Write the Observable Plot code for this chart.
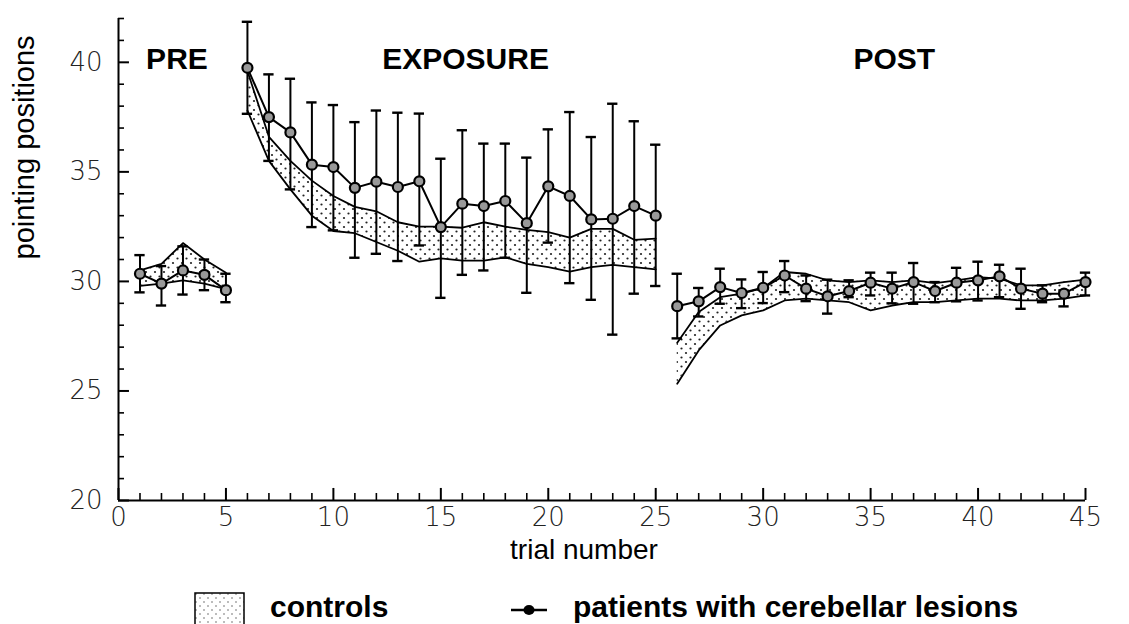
<!DOCTYPE html>
<html><head><meta charset="utf-8">
<script src="https://cdn.jsdelivr.net/npm/d3@7"></script>
<script src="https://cdn.jsdelivr.net/npm/@observablehq/plot@0.6"></script>
<style>
body{margin:0;background:#fff;width:1129px;height:624px;overflow:hidden;position:relative;font-family:"Liberation Sans",Arial,sans-serif}
#chart{position:absolute;left:0;top:0}
.leg{position:absolute;font-weight:bold;font-size:30px;line-height:30px;color:#000;white-space:nowrap}
.legsym{position:absolute}
</style></head><body>
<div id="chart"></div>
<svg class="legsym" style="left:194px;top:592px" width="52" height="34">
  <defs><pattern id="ldots" width="8" height="8" patternUnits="userSpaceOnUse"><rect width="8" height="8" fill="#fff"/><circle cx="2" cy="2" r="0.8" fill="#666"/><circle cx="6" cy="6" r="0.8" fill="#666"/></pattern></defs>
  <rect x="1" y="1" width="49" height="40" fill="url(#ldots)" stroke="#000" stroke-width="1.5"/>
</svg>
<div class="leg" id="leg1" style="left:270px;top:592px"></div>
<svg class="legsym" style="left:508px;top:600px" width="42" height="20">
  <line x1="3" y1="10" x2="39" y2="10" stroke="#000" stroke-width="2.5"/>
  <ellipse cx="21" cy="10" rx="5.5" ry="5" fill="#000"/>
</svg>
<div class="leg" id="leg2" style="left:573px;top:592px"></div>
<script>
// ---- data ----
const trials = [1,2,3,4,5,6,7,8,9,10,11,12,13,14,15,16,17,18,19,20,21,22,23,24,25,26,27,28,29,30,31,32,33,34,35,36,37,38,39,40,41,42,43,44,45];
const phaseNames = ["PRE", "EXPOSURE", "POST"];
const phaseFirst = [1, 6, 26];
const phaseLast = [5, 25, 45];

// patients with cerebellar lesions: mean and error-bar ends
const patientMean = [30.35,29.9,30.5,30.3,29.6,
  39.75,37.5,36.8,35.33,35.22,34.27,34.55,34.31,34.57,32.48,33.55,33.44,33.67,32.66,34.34,33.9,32.83,32.86,33.44,33.0,
  28.87,29.09,29.74,29.47,29.71,30.27,29.67,29.32,29.56,29.94,29.67,29.97,29.56,29.94,30.05,30.23,29.67,29.44,29.44,29.97];
const patientLow = [29.5,28.9,29.4,29.6,29.05,
  37.65,35.5,34.2,32.48,32.33,31.08,31.26,30.93,31.64,29.25,30.3,30.5,31.08,29.48,31.77,29.92,29.16,27.57,29.44,29.79,
  27.4,28.4,28.98,28.78,29.01,29.51,29.1,28.53,29.28,29.36,29.0,28.98,29.05,29.09,29.13,29.28,28.75,29.05,28.86,29.36];
const patientHigh = [31.2,30.7,31.6,31.0,30.35,
  41.85,39.45,39.25,38.17,38.05,37.27,37.8,37.7,37.66,35.6,36.9,36.29,36.29,35.65,36.94,37.73,36.59,38.11,37.31,36.24,
  30.35,29.7,30.58,30.09,30.43,30.93,30.27,30.08,30.05,30.4,30.4,30.84,29.97,30.62,30.9,30.76,30.58,29.82,29.59,30.4];

// controls: band limits
const controlUpper = [30.5,30.8,31.75,31.0,30.4,
  39.6,36.6,35.5,34.6,33.9,33.4,33.2,32.7,32.5,32.5,32.45,32.7,32.5,32.35,32.25,32.0,32.4,32.4,31.9,31.95,
  27.2,28.6,29.28,29.44,29.7,30.43,30.35,30.05,29.97,30.05,29.97,30.05,29.92,30.05,30.2,30.13,29.82,29.82,29.97,30.08];
const controlLower = [29.8,29.9,30.05,29.9,29.65,
  37.8,35.5,34.2,33.0,32.3,32.2,31.8,31.4,30.9,31.05,30.95,30.95,31.1,30.8,30.65,30.45,30.65,30.75,30.65,30.55,
  25.33,26.85,27.99,28.45,28.68,29.13,29.21,29.13,29.05,28.68,28.9,29.05,29.05,29.13,29.21,29.21,29.13,29.13,29.21,29.36];

// axis ticks
const xMajor = [0,5,10,15,20,25,30,35,40,45];
const yMajor = [20,25,30,35,40];
const xLabel = "trial number";
const yLabel = "pointing positions";
const legendLabels = ["controls", "patients with cerebellar lesions"];

// ---- build ----
const phaseOf = t => phaseNames[phaseFirst.findIndex((f, i) => t >= f && t <= phaseLast[i])];
const rows = trials.map((t, i) => ({
  t, phase: phaseOf(t),
  mean: patientMean[i], lo: patientLow[i], hi: patientHigh[i],
  cHi: controlUpper[i], cLo: controlLower[i]
}));
const phases = phaseNames.map((name, i) => ({name, mid: (phaseFirst[i] + phaseLast[i]) / 2}));
const xMinor = d3.range(0, 46).filter(v => !xMajor.includes(v));
const yMinor = d3.range(20, 43).filter(v => !yMajor.includes(v));

const tickFont = {fontFamily: "DejaVu Sans", fontSize: 26, fontWeight: 300, fill: "#222"};
const cap = 0.24;
const xLo = 0, yLo = 20;

const svg = Plot.plot({
  width: 1129, height: 575,
  marginLeft: 118, marginRight: 44, marginTop: 18, marginBottom: 75,
  x: {domain: [0, 45]},
  y: {domain: [20, 42]},
  style: {fontFamily: "Liberation Sans, Arial, sans-serif", background: "#fff", color: "#000"},
  marks: [
    Plot.areaY(rows, {x: "t", y1: "cLo", y2: "cHi", z: "phase", fill: "url(#dots)"}),
    Plot.lineY(rows, {x: "t", y: "cHi", z: "phase", stroke: "#000", strokeWidth: 1.8}),
    Plot.lineY(rows, {x: "t", y: "cLo", z: "phase", stroke: "#000", strokeWidth: 1.8}),
    Plot.ruleX(rows, {x: "t", y1: "lo", y2: "hi", stroke: "#000", strokeWidth: 2}),
    Plot.ruleY(rows, {y: "lo", x1: d => d.t - cap, x2: d => d.t + cap, stroke: "#000", strokeWidth: 2.4}),
    Plot.ruleY(rows, {y: "hi", x1: d => d.t - cap, x2: d => d.t + cap, stroke: "#000", strokeWidth: 2.4}),
    Plot.lineY(rows, {x: "t", y: "mean", z: "phase", stroke: "#000", strokeWidth: 2}),
    Plot.dot(rows, {x: "t", y: "mean", r: 5, fill: "#999", stroke: "#000", strokeWidth: 2.2}),
    // axes lines
    Plot.ruleY([yLo], {stroke: "#000", strokeWidth: 2}),
    Plot.ruleX([xLo], {stroke: "#000", strokeWidth: 2}),
    // ticks (inward)
    Plot.ruleY(yMajor, {y: d => d, x1: () => xLo, x2: () => xLo + 0.51, stroke: "#000", strokeWidth: 2}),
    Plot.ruleY(yMinor, {y: d => d, x1: () => xLo, x2: () => xLo + 0.28, stroke: "#000", strokeWidth: 1.6}),
    Plot.ruleX(xMajor, {x: d => d, y1: () => yLo, y2: () => yLo + 0.55, stroke: "#000", strokeWidth: 2}),
    Plot.ruleX(xMinor, {x: d => d, y1: () => yLo, y2: () => yLo + 0.32, stroke: "#000", strokeWidth: 1.6}),
    // tick labels
    Plot.axisY({ticks: yMajor, tickSize: 0, tickPadding: 16, label: null, ...tickFont}),
    Plot.axisX({ticks: xMajor, tickSize: 0, tickPadding: 7, label: null, ...tickFont}),
    // axis titles
    Plot.text([xLabel], {frameAnchor: "bottom", dy: 58, dx: -18, fontSize: 28, fill: "#000"}),
    Plot.text([yLabel], {frameAnchor: "left", rotate: -90, dx: -94, fontSize: 29, fill: "#000"}),
    // phase labels
    Plot.text(phases.slice(0, 1), {x: "mid", text: "name", frameAnchor: "top", dy: 29, dx: -6, fontSize: 30, fontWeight: "bold", fill: "#000"}),
    Plot.text(phases.slice(1, 2), {x: "mid", text: "name", frameAnchor: "top", dy: 29, dx: 14, fontSize: 30, fontWeight: "bold", fill: "#000"}),
    Plot.text(phases.slice(2, 3), {x: "mid", text: "name", frameAnchor: "top", dy: 29, dx: 13, fontSize: 30, fontWeight: "bold", fill: "#000"})
  ]
});
d3.select(svg).insert("defs", ":first-child").html(
  '<pattern id="dots" width="9" height="9" patternUnits="userSpaceOnUse">' +
  '<rect width="9" height="9" fill="#fff"/>' +
  '<circle cx="2" cy="2" r="1.1" fill="#222"/><circle cx="6.5" cy="6.5" r="1.1" fill="#222"/></pattern>');
document.getElementById("chart").appendChild(svg);
document.getElementById("leg1").textContent = legendLabels[0];
document.getElementById("leg2").textContent = legendLabels[1];
</script>
</body></html>
